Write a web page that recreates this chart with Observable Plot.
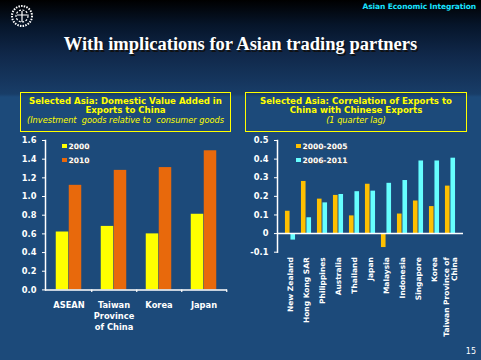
<!DOCTYPE html>
<html>
<head>
<meta charset="utf-8">
<script src="https://cdn.jsdelivr.net/npm/d3@7"></script>
<script src="https://cdn.jsdelivr.net/npm/@observablehq/plot@0.6"></script>
<style>
  html, body { margin: 0; padding: 0; background: #1c4a7a; }
  #page {
    position: relative; width: 481px; height: 360px; overflow: hidden;
    font-family: "DejaVu Sans", sans-serif;
    background: linear-gradient(to bottom, #000000 0px, #06152a 25px, #10284a 55px, #183d68 94px, #1c4a7a 97px, #1c4a7a 360px);
  }
  .abs { position: absolute; }
  #header { right: 5px; top: 2px; color: #19e3ff; font: bold 7.5px "DejaVu Sans"; letter-spacing: -0.1px; }
  #title { left: 0; width: 481px; top: 35px; text-align: center; color: #fff; font: bold 18.5px "Liberation Serif", serif; line-height: 18px; text-shadow: 1.5px 1.5px 0 #111; }
  .box { border: 1.5px solid #ffff00; box-sizing: border-box; color: #ffff00; text-align: center; font: bold 8.6px "DejaVu Sans"; line-height: 9.8px; padding-top: 3.5px; white-space: nowrap; }
  .box i { font-weight: normal; font-style: italic; font-size: 8.2px; }
  .legend { font: bold 7.5px "DejaVu Sans"; color: #fff; text-shadow: 0.5px 0.5px 0 #555; }
  .legend div { position: absolute; white-space: nowrap; height: 10px; line-height: 10px; }
  .legend span { display: inline-block; width: 4.5px; height: 4.5px; margin-right: 2px; vertical-align: 1px; }
  #pagenum { right: 5px; top: 347px; color: #fff; font: 8px "DejaVu Sans"; }
</style>
</head>
<body>
<div id="page">
  <svg class="abs" style="left:9px;top:3px" width="28" height="28">
    <circle cx="13" cy="13" r="10" fill="none" stroke="#fff" stroke-width="2" stroke-dasharray="1.5 1.2"/>
    <circle cx="13" cy="13" r="6" fill="none" stroke="#fff" stroke-width="1.2" stroke-dasharray="2 1.5"/>
    <path d="M8 12 L18 12 M13 8 L13 19" stroke="#fff" stroke-width="1.2"/>
  </svg>
  <div id="header" class="abs">Asian Economic Integration</div>
  <div id="title" class="abs">With implications for Asian trading partners</div>
  <div class="abs box" style="left:20px;top:92px;width:211px;height:40px">Selected Asia: Domestic Value Added in<br>Exports to China<br><i>(Investment&nbsp; goods relative to&nbsp; consumer goods</i></div>
  <div class="abs box" style="left:245px;top:92px;width:222px;height:40px">Selected Asia: Correlation of Exports to<br>China with Chinese Exports<br><i>(1 quarter lag)</i></div>
  <div id="leftChart" class="abs" style="left:0;top:135px"></div>
  <div id="rightChart" class="abs" style="left:240px;top:135px"></div>
  <div id="leftLegend" class="abs legend" style="left:62px;top:142px"></div>
  <div id="rightLegend" class="abs legend" style="left:296px;top:142px"></div>
  <div id="pagenum" class="abs">15</div>
</div>
<script>
// ---------- Left chart data ----------
const leftCategories = ["ASEAN", "Taiwan Province of China", "Korea", "Japan"];
const leftTickLabels = ["ASEAN", "Taiwan\nProvince\nof China", "Korea", "Japan"];
const leftSeries = ["2000", "2010"];
const leftValues2000 = [0.62, 0.68, 0.60, 0.81];
const leftValues2010 = [1.12, 1.28, 1.31, 1.49];
const leftColors = ["#ffff00", "#e8690c"];
const leftYTicks = [0, 0.2, 0.4, 0.6, 0.8, 1.0, 1.2, 1.4, 1.6];

// ---------- Right chart data ----------
const rightCategories = ["New Zealand", "Hong Kong SAR", "Philippines", "Australia", "Thailand", "Japan",
  "Malaysia", "Indonesia", "Singapore", "Korea", "Taiwan Province of China"];
const rightTickLabels = ["New Zealand", "Hong Kong SAR", "Philippines", "Australia", "Thailand", "Japan",
  "Malaysia", "Indonesia", "Singapore", "Korea", "Taiwan Province of\nChina"];
const rightSeries = ["2000-2005", "2006-2011"];
const rightValues0005 = [0.12, 0.28, 0.185, 0.205, 0.095, 0.265, -0.075, 0.105, 0.175, 0.145, 0.255];
const rightValues0611 = [-0.035, 0.085, 0.165, 0.21, 0.225, 0.228, 0.27, 0.285, 0.39, 0.39, 0.405];
const rightColors = ["#ffc000", "#66ffff"];
const rightYTicks = [-0.1, 0, 0.1, 0.2, 0.3, 0.4, 0.5];

const baseStyle = {background: "transparent", color: "#fff", fontFamily: "DejaVu Sans", fontWeight: "bold", fontSize: "8px", overflow: "visible"};

function groupedBars(cats, seriesVals, colors, width, ml, mr, barW) {
  const band = (width - ml - mr) / cats.length;
  const pad = (band - barW * seriesVals.length) / 2;
  return seriesVals.map((vals, s) => Plot.barY(
    cats.map((c, i) => ({category: c, value: vals[i]})),
    {x: "category", y: "value", fill: colors[s],
     insetLeft: pad + s * barW, insetRight: pad + (seriesVals.length - 1 - s) * barW}
  ));
}

// ---------- Left chart ----------
{
  const W = 240, H = 200, ml = 45, mr = 13, mt = 5, mb = 45.6;
  const band = (W - ml - mr) / leftCategories.length;
  const chart = Plot.plot({
    width: W, height: H, marginTop: mt, marginBottom: mb, marginLeft: ml, marginRight: mr,
    style: baseStyle,
    x: {domain: leftCategories, padding: 0},
    y: {domain: [0, 1.6]},
    marks: [
      ...groupedBars(leftCategories, [leftValues2000, leftValues2010], leftColors, W, ml, mr, 13),
      // small tick marks at category boundaries
      Plot.ruleX(leftCategories, {x: d => d, dx: band / 2, stroke: "#fff", strokeWidth: 1.2,
        insetTop: H - mt - mb, insetBottom: -2.5}),
      Plot.ruleY([0], {stroke: "#fff", strokeWidth: 1.5}),
      Plot.frame({anchor: "left", stroke: "#fff", strokeWidth: 1.5}),
      Plot.axisY({ticks: leftYTicks, tickFormat: d3.format(".1f"), tickSize: 3, tickPadding: 6, stroke: "#fff", fill: "#fff", label: null, fontSize: 8.3}),
      Plot.axisX({tickSize: 0, tickPadding: 10, fill: "#fff", label: null, lineHeight: 1.33, fontSize: 8.3,
        tickFormat: d => leftTickLabels[leftCategories.indexOf(d)]})
    ]
  });
  document.getElementById("leftChart").append(chart);
  const lg = document.getElementById("leftLegend");
  leftSeries.forEach((s, i) => {
    const d = document.createElement("div");
    d.style.top = (i * 14) + "px";
    d.innerHTML = `<span style="background:${leftColors[i]}"></span>${s}`;
    lg.append(d);
  });
}

// ---------- Right chart ----------
{
  const W = 241, H = 200, ml = 37, mr = 18;
  const chart = Plot.plot({
    width: W, height: H, marginTop: 5, marginBottom: 83.3, marginLeft: ml, marginRight: mr,
    style: baseStyle,
    x: {domain: rightCategories, padding: 0},
    y: {domain: [-0.1, 0.5]},
    marks: [
      ...groupedBars(rightCategories, [rightValues0005, rightValues0611], rightColors, W, ml, mr, 5.5),
      Plot.ruleY([0], {stroke: "#fff", strokeWidth: 1.5}),
      Plot.frame({anchor: "left", stroke: "#fff", strokeWidth: 1.5}),
      Plot.axisY({ticks: rightYTicks, tickFormat: d => d === 0 ? "0" : d.toFixed(1), tickSize: 3, tickPadding: 6, stroke: "#fff", fill: "#fff", label: null, fontSize: 8.3}),
      Plot.axisX({tickSize: 0, tickPadding: 5, tickRotate: -90, fill: "#fff", label: null, fontSize: 7.5,
        tickFormat: d => rightTickLabels[rightCategories.indexOf(d)]})
    ]
  });
  document.getElementById("rightChart").append(chart);
  const lg = document.getElementById("rightLegend");
  rightSeries.forEach((s, i) => {
    const d = document.createElement("div");
    d.style.top = (i * 14) + "px";
    d.innerHTML = `<span style="background:${rightColors[i]}"></span>${s}`;
    lg.append(d);
  });
}
</script>
</body>
</html>
